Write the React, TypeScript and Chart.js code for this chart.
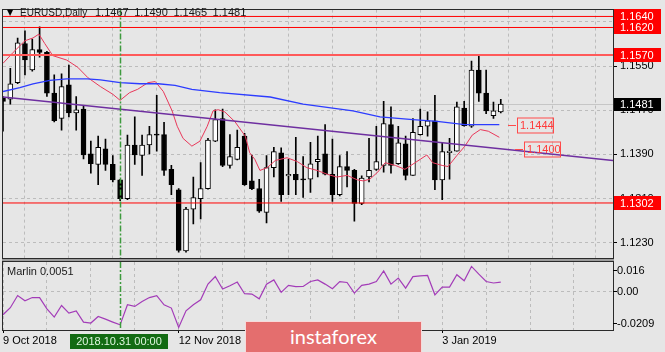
import React, { useEffect, useRef } from 'react';
import { Chart, registerables } from 'chart.js';

Chart.register(...registerables);

// ---------------- data ----------------
const openP = [1.1492,1.1490,1.1520,1.1591,1.1543,1.1580,1.1575,1.1501,1.1455,1.1516,
1.1465,1.1472,1.1391,1.1372,1.1400,1.1372,1.1344,1.1310,1.1407,1.1388,
1.1407,1.1426,1.1426,1.1363,1.1326,1.1215,1.1291,1.1310,1.1328,1.1414,
1.1455,1.1370,1.1381,1.1423,1.1342,1.1328,1.1285,1.1366,1.1393,1.1351,
1.1354,1.1345,1.1345,1.1377,1.1391,1.1354,1.1317,1.1368,1.1361,1.1301,
1.1349,1.1363,1.1370,1.1444,1.1373,1.1409,1.1352,1.1426,1.1441,1.1451,
1.1344,1.1393,1.1396,1.1474,1.1441,1.1543,1.1501,1.1460,1.1467];
const highP = [1.1495,1.1546,1.1601,1.1614,1.1599,1.1621,1.1577,1.1534,1.1536,1.1552,
1.1495,1.1478,1.1414,1.1423,1.1418,1.1388,1.1345,1.1425,1.1458,1.1425,
1.1441,1.1497,1.1448,1.1370,1.1328,1.1294,1.1349,1.1375,1.1419,1.1471,
1.1472,1.1426,1.1434,1.1428,1.1389,1.1345,1.1388,1.1403,1.1402,1.1381,
1.1421,1.1386,1.1412,1.1423,1.1444,1.1418,1.1388,1.1395,1.1363,1.1351,
1.1419,1.1441,1.1486,1.1476,1.1441,1.1423,1.1455,1.1472,1.1467,1.1497,
1.1411,1.1419,1.1485,1.1486,1.1559,1.1571,1.1543,1.1485,1.1490];
const lowP = [1.1432,1.1481,1.1518,1.1534,1.1541,1.1566,1.1495,1.1449,1.1434,1.1458,
1.1434,1.1382,1.1356,1.1335,1.1361,1.1340,1.1306,1.1308,1.1372,1.1352,
1.1391,1.1396,1.1352,1.1317,1.1213,1.1213,1.1264,1.1273,1.1327,1.1413,
1.1368,1.1365,1.1380,1.1334,1.1326,1.1285,1.1266,1.1349,1.1305,1.1317,
1.1317,1.1312,1.1321,1.1349,1.1353,1.1305,1.1315,1.1331,1.1269,1.1299,
1.1340,1.1361,1.1358,1.1356,1.1372,1.1344,1.1352,1.1425,1.1423,1.1326,
1.1308,1.1345,1.1396,1.1441,1.1439,1.1486,1.1464,1.1455,1.1465];
const closeP = [1.1486,1.1518,1.1592,1.1561,1.1580,1.1575,1.1501,1.1451,1.1513,1.1465,
1.1471,1.1389,1.1373,1.1403,1.1372,1.1344,1.1310,1.1407,1.1389,1.1407,
1.1426,1.1425,1.1361,1.1335,1.1216,1.1291,1.1312,1.1328,1.1416,1.1453,
1.1370,1.1386,1.1403,1.1335,1.1328,1.1287,1.1366,1.1395,1.1317,1.1354,
1.1344,1.1344,1.1373,1.1381,1.1354,1.1317,1.1368,1.1361,1.1301,1.1347,
1.1361,1.1377,1.1446,1.1370,1.1411,1.1352,1.1430,1.1441,1.1451,1.1344,
1.1395,1.1396,1.1476,1.1442,1.1543,1.1501,1.1469,1.1469,1.1481];

const redIdx = [0,1.4,3,4.1,4.9,5.7,6.8,8.7,10.2,11.6,13.3,15,16,17.3,18.4,19.8,20.8,21.9,23.1,23.8,
24.6,25.8,26.9,27.9,28.7,29.4,30.3,31.7,33.1,33.7,34.4,35.1,36.1,37.2,38.8,40.2,41.5,42.9,44.3,45.6,
47,48.4,49.2,50.1,51.2,52.2,53.6,54.9,56.3,57.9,58.7,60,60.8,62,63.1,64.1,65.2,66.3,67.8];
const redVal = [1.1555,1.1575,1.1596,1.1601,1.1608,1.1591,1.1569,1.1561,1.1548,1.1529,
1.1513,1.1499,1.1488,1.1502,1.1508,1.1520,1.1522,1.1504,1.1469,1.1441,
1.1419,1.1405,1.1414,1.1441,1.1469,1.1471,1.1467,1.1449,1.1423,1.1393,
1.1381,1.1361,1.1366,1.1379,1.1384,1.1377,1.1366,1.1361,1.1354,1.1349,
1.1352,1.1344,1.1342,1.1345,1.1358,1.1375,1.1370,1.1363,1.1375,1.1389,
1.1375,1.1370,1.1368,1.1388,1.1405,1.1425,1.1435,1.1432,1.1421];

const blueIdx = [0,2.3,4.1,6.4,8.7,11.5,13.3,16,18.7,21.2,23.5,25.8,29.6,36.5,41,47.8,51.5,56,59.3,63.1,67.8];
const blueVal = [1.1504,1.1511,1.1518,1.1524,1.1527,1.1527,1.1525,1.1520,1.1518,1.1518,1.1515,
1.1508,1.1502,1.1494,1.1481,1.1469,1.1458,1.1453,1.1450,1.1444,1.1444];

const trendIdx = [0, 83.33];
const trendVal = [1.1494, 1.1379];

const levelVals = [1.1640, 1.1620, 1.1570, 1.1302];
const bidVal = 1.1481;
const calloutVals = [1.1444, 1.1400];
const calloutIdx = [69, 70];

const priceTicks = [1.1230, 1.1310, 1.1390, 1.1470, 1.1550, 1.1630];
const gridIdx = [0, 6, 12, 18, 24, 30, 36, 42, 48, 54, 60, 66, 72, 78];
const dateTickIdx = [0, 24, 60];
const dateTickLabels = ['9 Oct 2018', '12 Nov 2018', '3 Jan 2019'];
const cursorIdx = 16;
const cursorLabel = '2018.10.31 00:00';

const marlin = [-0.0126,-0.0088,-0.0022,-0.0050,-0.0033,-0.0033,-0.0094,-0.0139,-0.0076,-0.0117,
-0.0105,-0.0166,-0.0171,-0.0136,-0.0150,-0.0166,-0.0181,-0.0072,-0.0081,-0.0054,
-0.0033,-0.0023,-0.0072,-0.0090,-0.0195,-0.0105,-0.0072,-0.0045,0.0040,0.0081,
0.0013,0.0031,0.0051,-0.0012,-0.0014,-0.0040,0.0040,0.0063,-0.0005,0.0033,
0.0026,0.0027,0.0054,0.0063,0.0040,0.0015,0.0054,0.0049,-0.0009,0.0033,
0.0040,0.0054,0.0112,0.0040,0.0073,0.0018,0.0081,0.0085,0.0087,-0.0018,
0.0024,0.0024,0.0091,0.0058,0.0136,0.0094,0.0054,0.0046,0.0051];
const marlinTicks = [0.016, 0.0, -0.0209];
const marlinTickText = ['0.016', '0.00', '-0.0209'];
const marlinTitle = 'Marlin 0.0051';

const symbolTitle = 'EURUSD,Daily';
const ohlcTitle = ['1.1467', '1.1490', '1.1465', '1.1481'];

const X_MIN = 0;
const X_MAX = 83.33;
const PRICE_MIN = 1.12023;
const PRICE_MAX = 1.16524;
const MARLIN_MIN = -0.0209;
const MARLIN_MAX = 0.016;

// ---------------- styles ----------------
const BG = '#e6e6e6';
const GRID = '#bcbcbc';
const FAMILY = '"Liberation Sans", Arial, sans-serif';
const FONT = '11px ' + FAMILY;
const levelColors = ['#ff0000', '#ff0000', '#ff5a5a', '#ff0000'];
const levelWidths = [1, 1, 2, 1];

const drawBorder = (ctx: CanvasRenderingContext2D, a: any) => {
  ctx.save();
  ctx.strokeStyle = '#2a2a2a';
  ctx.lineWidth = 1;
  ctx.strokeRect(Math.round(a.left) - 0.5, Math.round(a.top) - 0.5, Math.round(a.right - a.left) + 1, Math.round(a.bottom - a.top) + 1);
  ctx.restore();
};

const drawCursor = (ctx: CanvasRenderingContext2D, a: any, x: any) => {
  const px = Math.round(x.getPixelForValue(cursorIdx)) + 0.5;
  ctx.save();
  ctx.strokeStyle = '#3d9a3d';
  ctx.lineWidth = 1.5;
  ctx.setLineDash([6, 2, 2, 2]);
  ctx.beginPath();
  ctx.moveTo(px, a.top);
  ctx.lineTo(px, a.bottom);
  ctx.stroke();
  ctx.restore();
};

const mainDecor = {
  id: 'mainDecor',
  beforeDatasetsDraw(chart: any) {
    const { ctx, chartArea: a, scales } = chart;
    const by = Math.round(scales.y.getPixelForValue(bidVal)) + 0.5;
    ctx.save();
    ctx.strokeStyle = '#c6c6c6';
    ctx.lineWidth = 1;
    ctx.beginPath();
    ctx.moveTo(a.left, by);
    ctx.lineTo(a.right, by);
    ctx.stroke();
    ctx.restore();
  },
  afterDatasetsDraw(chart: any) {
    const { ctx, chartArea: a, scales } = chart;
    const x = scales.x;
    const y = scales.y;
    drawCursor(ctx, a, x);

    // callout labels
    ctx.save();
    ctx.font = FONT;
    ctx.textBaseline = 'middle';
    calloutVals.forEach((v, i) => {
      const py = Math.round(y.getPixelForValue(v)) + 0.5;
      const px = Math.round(x.getPixelForValue(calloutIdx[i]));
      ctx.strokeStyle = '#ff4a4a';
      ctx.lineWidth = 1;
      ctx.beginPath();
      ctx.moveTo(px, py);
      ctx.lineTo(px + 8, py);
      ctx.stroke();
      ctx.strokeRect(px + 9.5, py - 7.5, 36, 15);
      ctx.fillStyle = '#ff3a3a';
      ctx.fillText(v.toFixed(4), px + 12, py + 0.5);
    });
    ctx.restore();

    drawBorder(ctx, a);
    // separator band under the main window
    ctx.save();
    ctx.fillStyle = '#9c9c9c';
    ctx.fillRect(a.left - 1, Math.round(a.bottom) + 1, a.right - a.left + 2, 2);
    ctx.restore();

    // title
    ctx.save();
    ctx.fillStyle = '#000';
    ctx.font = '8px "DejaVu Sans", sans-serif';
    ctx.textBaseline = 'alphabetic';
    ctx.fillText('\u25BC', 7, 15);
    ctx.fillStyle = '#1a1a1a';
    ctx.font = '10px ' + FAMILY;
    ctx.fillText(symbolTitle, 20, 16);
    ctx.font = FONT;
    ohlcTitle.forEach((t, i) => ctx.fillText(t, 95 + i * 39.2, 16));
    ctx.restore();

    // axis boxes
    ctx.save();
    ctx.font = FONT;
    ctx.textBaseline = 'middle';
    levelVals.forEach((v) => {
      const py = Math.round(y.getPixelForValue(v));
      ctx.fillStyle = '#ff0000';
      ctx.fillRect(a.right + 1, py - 7, 47, 14);
      ctx.fillStyle = '#ffffff';
      ctx.fillText(v.toFixed(4), a.right + 7, py + 0.5);
    });
    const bpy = Math.round(y.getPixelForValue(bidVal));
    ctx.fillStyle = '#000000';
    ctx.fillRect(a.right + 1, bpy - 6, 47, 13);
    ctx.fillStyle = '#ffffff';
    ctx.fillText(bidVal.toFixed(4), a.right + 7, bpy + 0.5);
    ctx.restore();
  },
};

const indDecor = {
  id: 'indDecor',
  afterDatasetsDraw(chart: any) {
    const { ctx, chartArea: a, scales } = chart;
    const x = scales.x;
    const y = scales.y;
    drawCursor(ctx, a, x);
    drawBorder(ctx, a);
    ctx.save();
    ctx.font = FONT;
    ctx.fillStyle = '#1a1a1a';
    ctx.textBaseline = 'middle';
    ctx.fillText(marlinTitle, 7, a.top + 9.5);
    const offs = [8, 0, -7];
    marlinTicks.forEach((v, i) => {
      const py = Math.round(y.getPixelForValue(v) + offs[i]) + 0.5;
      ctx.strokeStyle = '#000';
      ctx.beginPath();
      ctx.moveTo(a.right, py);
      ctx.lineTo(a.right + 4, py);
      ctx.stroke();
      ctx.fillStyle = '#000';
      ctx.fillText(marlinTickText[i], a.right + 4, py);
    });
    // cursor date box
    const px = x.getPixelForValue(cursorIdx);
    ctx.fillStyle = '#136b13';
    ctx.fillRect(Math.round(px) - 50, Math.round(a.bottom) + 4, 98, 15);
    ctx.fillStyle = '#dff7df';
    ctx.textAlign = 'center';
    ctx.fillText(cursorLabel, Math.round(px) - 1, Math.round(a.bottom) + 11.5);
    ctx.restore();
  },
};

function mainConfig(): any {
  const idx = openP.map((_, i) => i);
  const lineDs = (xs: number[], ys: number[], color: string, w: number) => ({
    type: 'line',
    data: xs.map((xv, i) => ({ x: xv, y: ys[i] })),
    borderColor: color,
    borderWidth: w,
    pointRadius: 0,
    fill: false,
    tension: 0,
    order: 1,
  });
  const levels = levelVals.map((v, i) => lineDs([X_MIN, X_MAX], [v, v], levelColors[i], levelWidths[i]));
  return {
    type: 'bar',
    data: {
      datasets: [
        ...levels,
        lineDs(trendIdx, trendVal, '#6e2fa0', 1.3),
        lineDs(blueIdx, blueVal, '#2c3cff', 1.3),
        lineDs(redIdx, redVal, '#e8385a', 1),
        {
          type: 'bar',
          data: idx.map((i) => ({ x: i, y: [openP[i], closeP[i]] })),
          backgroundColor: (c: any) => (closeP[c.dataIndex] >= openP[c.dataIndex] ? '#ffffff' : '#000000'),
          borderColor: '#000000',
          borderWidth: 1,
          borderSkipped: false,
          barThickness: 5,
          minBarLength: 1,
          grouped: false,
          order: 2,
        },
        {
          type: 'bar',
          data: idx.map((i) => ({ x: i, y: [lowP[i], highP[i]] })),
          backgroundColor: '#000000',
          borderWidth: 0,
          barThickness: 1,
          grouped: false,
          order: 3,
        },
      ],
    },
    options: {
      responsive: false,
      animation: false,
      events: [],
      layout: { padding: { left: 3, top: 3, right: 0, bottom: 94 } },
      plugins: { legend: { display: false }, tooltip: { enabled: false }, title: { display: false } },
      scales: {
        x: {
          type: 'linear',
          min: X_MIN,
          max: X_MAX,
          offset: false,
          afterBuildTicks: (s: any) => { s.ticks = gridIdx.map((v) => ({ value: v })); },
          afterFit: (s: any) => { s.height = 0; },
          ticks: { display: false },
          grid: { color: GRID, drawTicks: false, lineWidth: 1 },
          border: { display: false, dash: [3, 3] },
        },
        y: {
          type: 'linear',
          position: 'right',
          min: PRICE_MIN,
          max: PRICE_MAX,
          afterBuildTicks: (s: any) => { s.ticks = priceTicks.map((v) => ({ value: v })); },
          afterFit: (s: any) => { s.width = 52; },
          ticks: { color: '#000', padding: 3, font: { size: 11, family: FAMILY }, callback: (v: any) => Number(v).toFixed(4) },
          grid: { color: GRID, tickColor: '#000', tickLength: 4, tickWidth: 1, tickBorderDash: [] },
          border: { display: false, dash: [3, 3] },
        },
      },
    },
    plugins: [mainDecor],
  };
}

function indConfig(): any {
  return {
    type: 'line',
    data: {
      datasets: [
        {
          data: marlin.map((v, i) => ({ x: i, y: v })),
          borderColor: '#a33cb8',
          borderWidth: 1.2,
          pointRadius: 0,
          tension: 0,
          fill: false,
        },
      ],
    },
    options: {
      responsive: false,
      animation: false,
      events: [],
      layout: { padding: { left: 3, top: 262, right: 0, bottom: 0 } },
      plugins: { legend: { display: false }, tooltip: { enabled: false }, title: { display: false } },
      scales: {
        x: {
          type: 'linear',
          min: X_MIN,
          max: X_MAX,
          offset: false,
          afterBuildTicks: (s: any) => { s.ticks = gridIdx.map((v) => ({ value: v })); },
          afterFit: (s: any) => { s.height = 22; },
          ticks: {
            autoSkip: false,
            maxRotation: 0,
            minRotation: 0,
            align: 'start',
            padding: 1,
            color: '#000',
            font: { size: 11, family: FAMILY },
            callback: (v: any) => {
              const k = dateTickIdx.indexOf(Number(v));
              return k >= 0 ? dateTickLabels[k] : '';
            },
          },
          grid: {
            color: GRID,
            tickLength: 3,
            tickBorderDash: [],
            tickColor: (c: any) => (c.tick && dateTickIdx.includes(c.tick.value) ? '#000' : 'rgba(0,0,0,0)'),
          },
          border: { display: false, dash: [3, 3] },
        },
        y: {
          type: 'linear',
          position: 'right',
          min: MARLIN_MIN,
          max: MARLIN_MAX,
          afterBuildTicks: (s: any) => { s.ticks = [{ value: 0 }]; },
          afterFit: (s: any) => { s.width = 52; },
          ticks: { display: false },
          grid: { color: GRID, drawTicks: false },
          border: { display: false, dash: [3, 3] },
        },
      },
    },
    plugins: [indDecor],
  };
}

export default function App() {
  const mainRef = useRef<HTMLCanvasElement>(null);
  const indRef = useRef<HTMLCanvasElement>(null);
  useEffect(() => {
    const c1 = new Chart(mainRef.current as HTMLCanvasElement, mainConfig());
    const c2 = new Chart(indRef.current as HTMLCanvasElement, indConfig());
    return () => {
      c1.destroy();
      c2.destroy();
    };
  }, []);
  return (
    <div style={{ position: 'fixed', left: 0, top: 0, width: 665, height: 352, background: BG, overflow: 'hidden' }}>
      <canvas ref={mainRef} width={665} height={352} style={{ position: 'absolute', left: 0, top: 0 }} />
      <canvas ref={indRef} width={665} height={352} style={{ position: 'absolute', left: 0, top: 0 }} />
      <div
        style={{
          position: 'absolute',
          left: 245,
          top: 321,
          width: 177,
          height: 31,
          boxSizing: 'border-box',
          background: '#e46e6e',
          borderTop: '1px solid #f7dada',
          borderLeft: '1px solid #f7dada',
          borderRight: '1px solid #f7dada',
          color: '#ffffff',
          font: '20px Lato, "Liberation Sans", sans-serif',
          display: 'flex',
          alignItems: 'center',
          paddingLeft: 44,
          paddingBottom: 2,
        }}
      >
        instaforex
      </div>
    </div>
  );
}
